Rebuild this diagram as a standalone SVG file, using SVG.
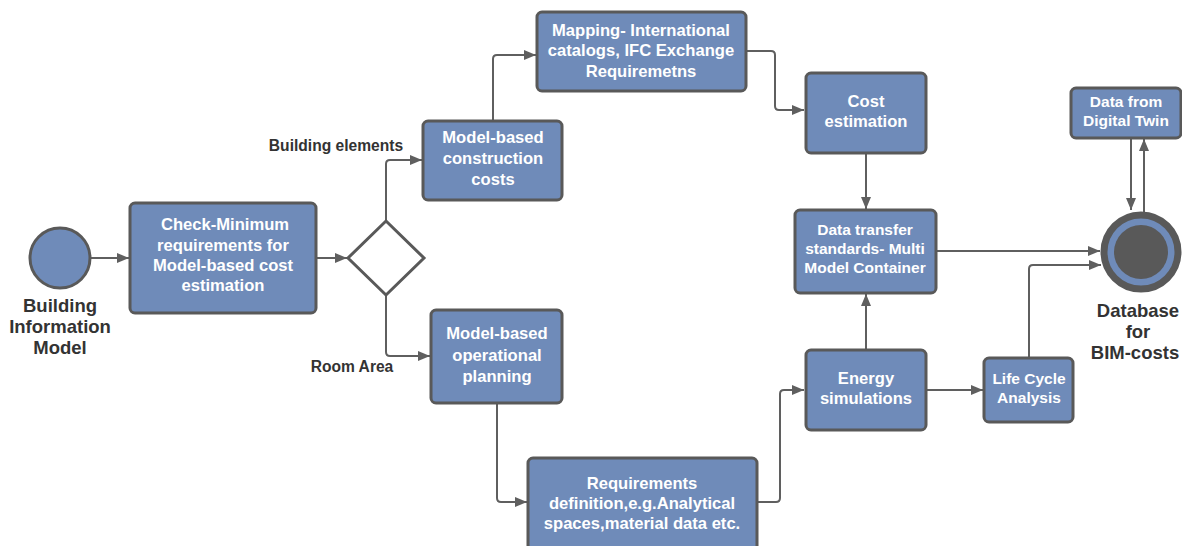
<svg xmlns="http://www.w3.org/2000/svg" width="1182" height="546" viewBox="0 0 1182 546">
  <style>
    .box { fill: #6f8bb9; stroke: #595959; stroke-width: 3; }
    .t { fill: #ffffff; font-family: "Liberation Sans", Arial, sans-serif; font-weight: bold; font-size: 16.6px; text-anchor: middle; }
    .ts { font-size: 15.5px; }
    .lbl { fill: #333333; font-family: "Liberation Sans", Arial, sans-serif; font-weight: bold; font-size: 18.5px; text-anchor: middle; }
    .lbls { font-size: 15.6px; }
    .edge { fill: none; stroke: #5f5f5f; stroke-width: 2; stroke-linejoin: round; marker-end: url(#arrow); }
  </style>
  <defs>
    <marker id="arrow" viewBox="0 0 12 10" refX="12" refY="5" markerWidth="12" markerHeight="10" markerUnits="userSpaceOnUse" orient="auto">
      <path d="M0,0 L12,5 L0,10 Z" fill="#5f5f5f"/>
    </marker>
  </defs>
  <rect width="1182" height="546" fill="#ffffff"/>

  <g id="connectors">
    <path class="edge" d="M91,258 H129"/>
    <path class="edge" d="M316,258 H347"/>
    <path class="edge" d="M386,220 V164 Q386,160 390,160 H422"/>
    <path class="edge" d="M386,296 V352 Q386,356 390,356 H430"/>
    <path class="edge" d="M493,121 V59 Q493,55 497,55 H536"/>
    <path class="edge" d="M746,51 H771 Q775,51 775,55 V106 Q775,110 779,110 H804"/>
    <path class="edge" d="M866,153 V209"/>
    <path class="edge" d="M497,403 V498 Q497,502 501,502 H527"/>
    <path class="edge" d="M757,502 H776 Q780,502 780,498 V394 Q780,390 784,390 H804"/>
    <path class="edge" d="M866,350 V294"/>
    <path class="edge" d="M926,390 H983"/>
    <path class="edge" d="M936,251 H1100"/>
    <path class="edge" d="M1029,358 V269 Q1029,265 1033,265 H1101"/>
    <path class="edge" d="M1131,138 V210"/>
    <path class="edge" d="M1144,212 V139"/>
  </g>

  <g id="start">
    <circle cx="60" cy="258" r="30" fill="#6f8bb9" stroke="#595959" stroke-width="3"/>
    <text class="lbl" x="60" y="312">Building</text>
    <text class="lbl" x="60" y="333">Information</text>
    <text class="lbl" x="60" y="354">Model</text>
  </g>

  <g id="check">
    <rect class="box" x="130" y="203" width="186" height="110" rx="5"/>
    <text class="t" x="225" y="230">Check-Minimum</text>
    <text class="t" x="223" y="251">requirements for</text>
    <text class="t" x="223" y="271">Model-based cost</text>
    <text class="t" x="223" y="291">estimation</text>
  </g>

  <g id="gateway">
    <polygon points="386,221 424,258 386,295 348,258" fill="#ffffff" stroke="#595959" stroke-width="3" stroke-linejoin="miter"/>
    <text class="lbl lbls" x="336" y="151">Building elements</text>
    <text class="lbl lbls" x="352" y="372">Room Area</text>
  </g>

  <g id="construction">
    <rect class="box" x="423" y="121" width="139" height="79" rx="5"/>
    <text class="t" x="493" y="143">Model-based</text>
    <text class="t" x="493" y="164">construction</text>
    <text class="t" x="493" y="185">costs</text>
  </g>

  <g id="operational">
    <rect class="box" x="431" y="310" width="131" height="93" rx="5"/>
    <text class="t" x="497" y="339">Model-based</text>
    <text class="t" x="497" y="361">operational</text>
    <text class="t" x="497" y="382">planning</text>
  </g>

  <g id="mapping">
    <rect class="box" x="537" y="12" width="209" height="79" rx="5"/>
    <text class="t" x="641" y="36">Mapping- International</text>
    <text class="t" x="641" y="56">catalogs, IFC Exchange</text>
    <text class="t" x="641" y="77">Requiremetns</text>
  </g>

  <g id="cost">
    <rect class="box" x="806" y="73" width="120" height="80" rx="5"/>
    <text class="t" x="866" y="107">Cost</text>
    <text class="t" x="866" y="127">estimation</text>
  </g>

  <g id="transfer">
    <rect class="box" x="795" y="210" width="141" height="83" rx="5"/>
    <text class="t ts" x="865" y="235">Data transfer</text>
    <text class="t ts" x="865" y="254">standards- Multi</text>
    <text class="t ts" x="865" y="273">Model Container</text>
  </g>

  <g id="requirements">
    <rect class="box" x="528" y="458" width="229" height="100" rx="5"/>
    <text class="t" x="642" y="489">Requirements</text>
    <text class="t" x="642" y="509">definition,e.g.Analytical</text>
    <text class="t" x="642" y="529">spaces,material data etc.</text>
  </g>

  <g id="energy">
    <rect class="box" x="806" y="350" width="120" height="80" rx="5"/>
    <text class="t" x="866" y="384">Energy</text>
    <text class="t" x="866" y="404">simulations</text>
  </g>

  <g id="lifecycle">
    <rect class="box" x="984" y="358" width="89" height="64" rx="5"/>
    <text class="t ts" x="1029" y="384">Life Cycle</text>
    <text class="t ts" x="1029" y="403">Analysis</text>
  </g>

  <g id="twin">
    <rect class="box" x="1071" y="88" width="110" height="50" rx="5"/>
    <text class="t ts" x="1126" y="107">Data from</text>
    <text class="t ts" x="1126" y="126">Digital Twin</text>
  </g>

  <g id="database">
    <circle cx="1141" cy="252" r="37" fill="#6f8bb9" stroke="#595959" stroke-width="7"/>
    <circle cx="1141" cy="252" r="27" fill="#595959"/>
    <text class="lbl" x="1138" y="317">Database</text>
    <text class="lbl" x="1138" y="338">for</text>
    <text class="lbl" x="1135" y="359">BIM-costs</text>
  </g>
</svg>
